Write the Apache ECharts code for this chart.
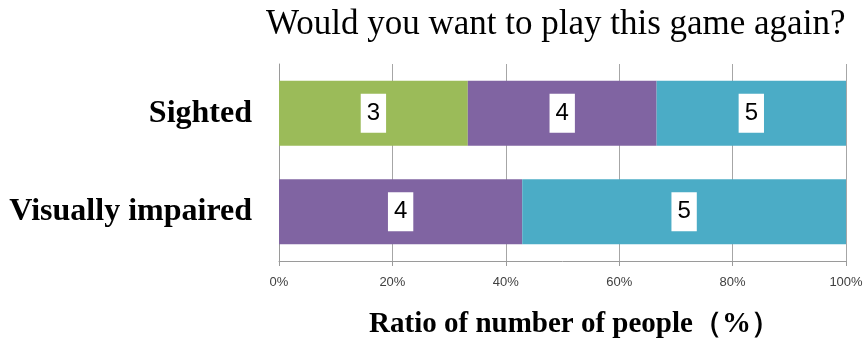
<!DOCTYPE html>
<html>
<head>
<meta charset="utf-8">
<script src="https://cdn.jsdelivr.net/npm/echarts@6/dist/echarts.min.js"></script>
<style>
html,body{margin:0;padding:0;background:#fff;}
#chart{width:866px;height:343px;}
</style>
</head>
<body>
<div id="chart"></div>
<script>
var titleText = 'Would you want to play this game again?';
var axisName = 'Ratio of number of people\uFF08%\uFF09';
var categories = ['Sighted', 'Visually impaired'];
var seriesNames = ['3', '4', '5'];
var seriesColors = ['#9BBB59', '#8064A2', '#4BACC6'];
// percentage of people per answer, per group (null = none)
var answer3 = [33.3, null];
var answer4 = [33.3, 42.9];
var answer5 = [33.4, 57.1];
var xTicks = [0, 20, 40, 60, 80, 100];

var values = [answer3, answer4, answer5];
var chart = echarts.init(document.getElementById('chart'));
var series = seriesNames.map(function (n, i) {
  return {
    name: n,
    type: 'bar',
    stack: 'total',
    barCategoryGap: '34%',
    data: values[i].map(function (v) { return v === null ? '-' : v; }),
    itemStyle: { color: seriesColors[i] },
    label: {
      show: true,
      position: 'inside',
      formatter: '{a}',
      color: '#000',
      fontFamily: 'Liberation Sans',
      fontSize: 24,
      lineHeight: 27,
      backgroundColor: '#fff',
      padding: [6, 6]
    }
  };
});
chart.setOption({
  animation: false,
  title: {
    text: titleText,
    left: 261,
    top: 2,
    textStyle: { fontFamily: 'Liberation Serif', fontWeight: 'normal', fontSize: 35, color: '#000' }
  },
  grid: { left: 279, right: 20, top: 64, bottom: 82, outerBoundsMode: 'none', containLabel: false },
  xAxis: {
    type: 'value',
    min: xTicks[0],
    max: xTicks[xTicks.length - 1],
    interval: xTicks[1] - xTicks[0],
    name: axisName,
    nameLocation: 'middle',
    nameGap: 49,
    nameTextStyle: { fontFamily: 'Liberation Serif', fontWeight: 'bold', fontSize: 29, color: '#000', padding: [0, 0, 0, 24] },
    axisLine: { show: true, lineStyle: { color: '#9a9a9a', width: 1 } },
    axisTick: { show: true, length: 5, lineStyle: { color: '#9a9a9a' } },
    axisLabel: { formatter: '{value}%', margin: 15, fontFamily: 'Liberation Sans', fontSize: 13, color: '#404040' },
    splitLine: { show: true, lineStyle: { color: '#a6a6a6', width: 1 } }
  },
  yAxis: {
    type: 'category',
    inverse: true,
    data: categories,
    axisLine: { show: true, lineStyle: { color: '#9a9a9a' } },
    axisTick: { show: false },
    axisLabel: { margin: 27, fontFamily: 'Liberation Serif', fontWeight: 'bold', fontSize: 32, color: '#000' }
  },
  series: series
});
</script>
</body>
</html>
